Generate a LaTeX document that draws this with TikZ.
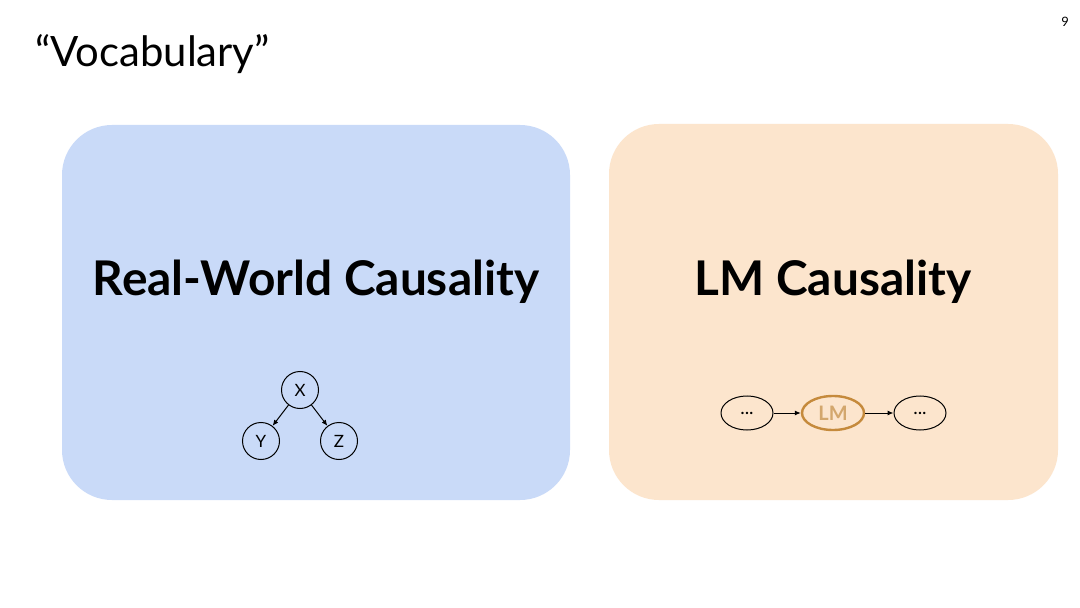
\documentclass[tikz,border=0pt]{standalone}
\usepackage{fontspec}
\setmainfont{Lato}
\usetikzlibrary{positioning,arrows.meta,shapes.geometric}
\definecolor{boxblue}{HTML}{C9DAF8}
\definecolor{boxorange}{HTML}{FCE5CD}
\definecolor{lmorange}{HTML}{C58A3C}
\tikzset{
    card/.style={rounded corners=50bp, draw=none},
    var/.style={circle, draw, line width=1bp, minimum size=37bp, inner sep=0pt, font=\fontsize{17}{17}\selectfont},
    tok/.style={ellipse, draw, line width=1bp, minimum width=52bp, minimum height=34bp, inner sep=0pt, font=\fontsize{19}{19}\selectfont},
    edge/.style={-{Latex[length=6bp,width=5bp]}, line width=1bp}
}
\begin{document}
\begin{tikzpicture}[x=1bp, y=-1bp]

    % Pagina
    \useasboundingbox (0,0) rectangle (1080,608);
    \fill[white] (0,0) rectangle (1080,608);

    % Titolo
    \node[anchor=base west, inner sep=0pt, font=\fontsize{42}{42}\selectfont] (title) at (35,67) {“Vocabulary”};
    \node[anchor=base, inner sep=0pt, font=\fontsize{13}{13}\selectfont] (page) at (1065,27) {9};

    % Riquadri
    \fill[card, boxblue] (62,125) rectangle (570,500);
    \fill[card, boxorange] (609,124) rectangle (1058,500);

    % Etichette
    \node[font=\bfseries\fontsize{48}{48}\selectfont] (rw) at (316,282) {Real-World Causality};
    \node[font=\bfseries\fontsize{48}{48}\selectfont] (lmc) at (833,282) {LM Causality};

    % Grafo causale
    \node[var] (x) at (300,390) {X};
    \node[var] (y) at (261,441) {Y};
    \node[var] (z) at (339,441) {Z};
    \draw[edge] (x) -- (y);
    \draw[edge] (x) -- (z);

    % Catena LM
    \node[tok] (pre) at (747,413) {...};
    \node[tok, draw=lmorange, line width=2.4bp, minimum width=62bp, text=lmorange!75, font=\bfseries\fontsize{20}{20}\selectfont] (lm) at (833,413) {LM};
    \node[tok] (post) at (920,413) {...};
    \draw[edge] (pre) -- (lm);
    \draw[edge] (lm) -- (post);

\end{tikzpicture}
\end{document}
